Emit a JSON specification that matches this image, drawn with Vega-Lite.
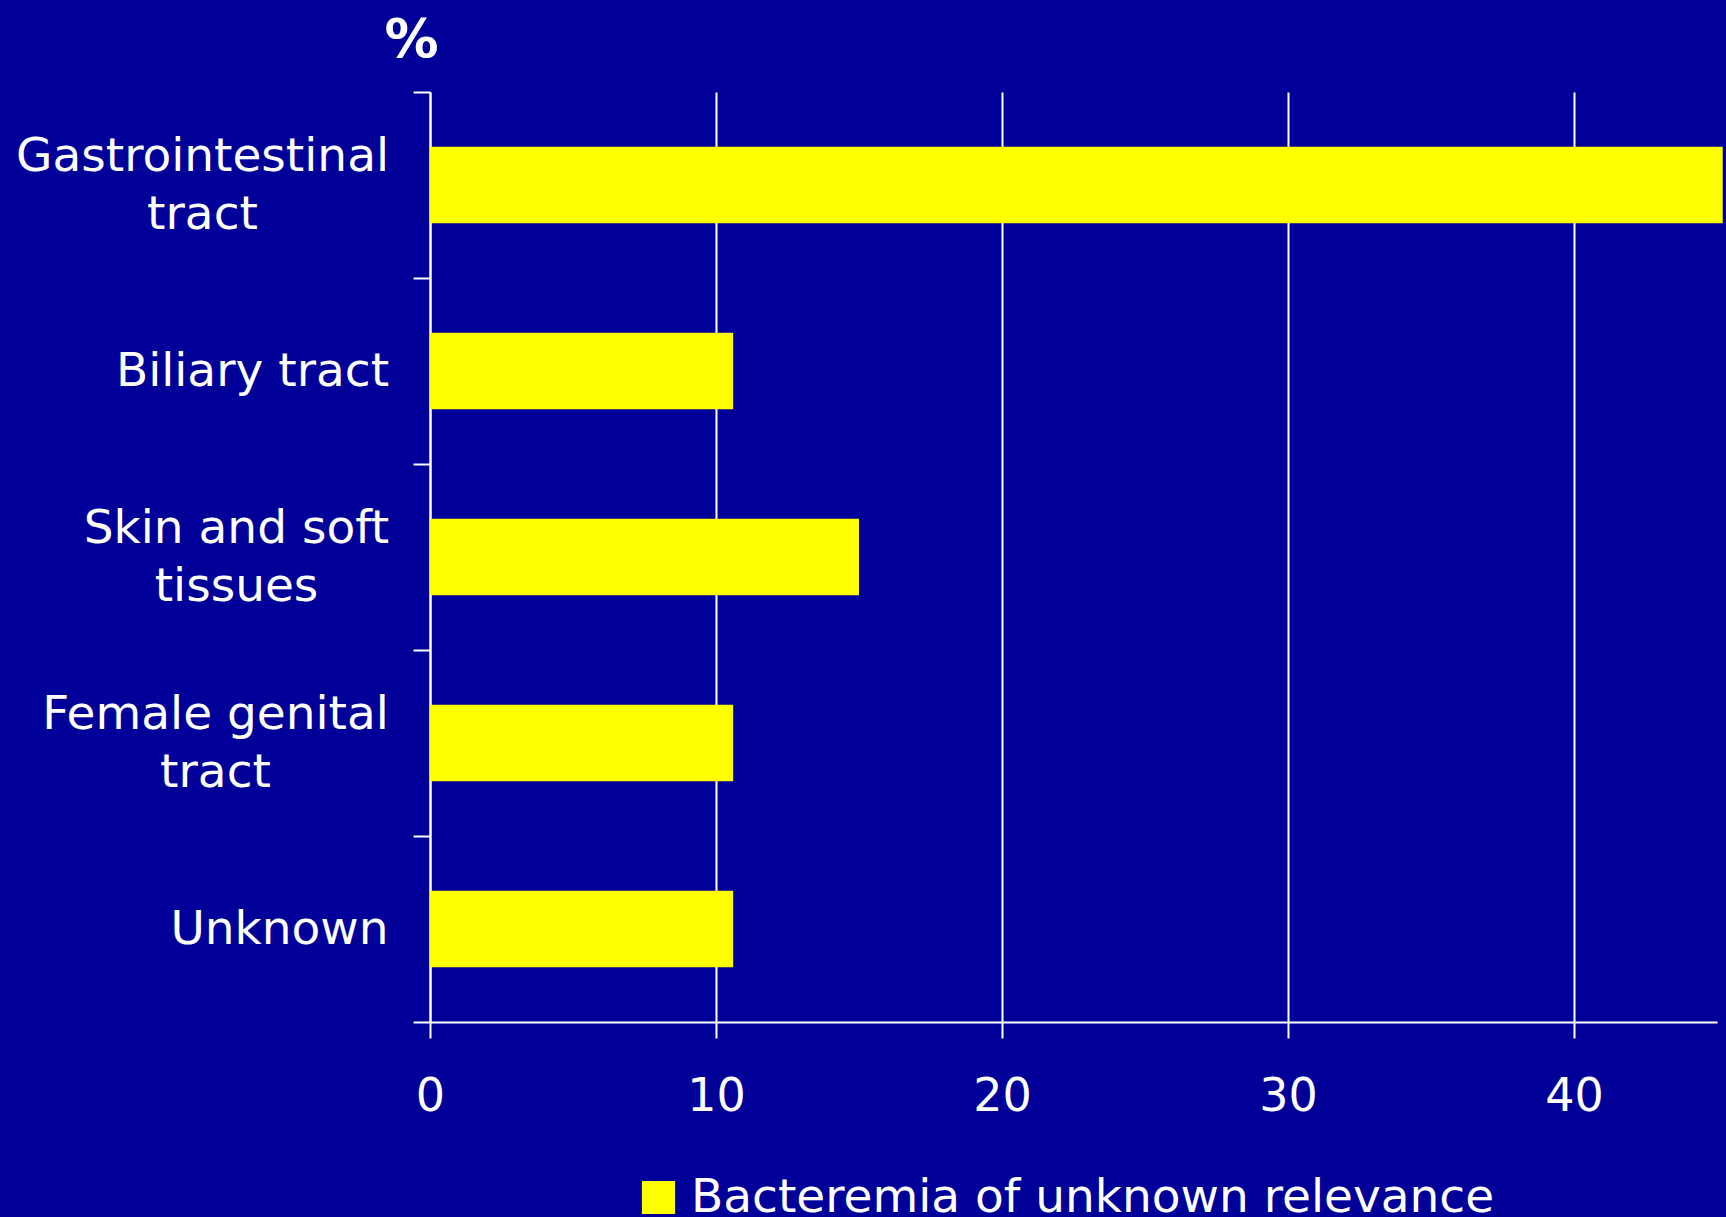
{
  "$schema": "https://vega.github.io/schema/vega-lite/v6.json",
  "width": 1287,
  "height": 930,
  "autosize": {"type": "none"},
  "padding": {"left": 430, "top": 92, "right": 9, "bottom": 195},
  "background": "#000099",
  "config": {"view": {"stroke": null}, "font": "DejaVu Sans"},
  "data": {
    "values": [
      {"site": "Gastrointestinal tract", "percent": 45.2, "series": "Bacteremia of unknown relevance"},
      {"site": "Biliary tract", "percent": 10.6, "series": "Bacteremia of unknown relevance"},
      {"site": "Skin and soft tissues", "percent": 15.0, "series": "Bacteremia of unknown relevance"},
      {"site": "Female genital tract", "percent": 10.6, "series": "Bacteremia of unknown relevance"},
      {"site": "Unknown", "percent": 10.6, "series": "Bacteremia of unknown relevance"}
    ]
  },
  "mark": {"type": "bar", "height": {"band": 0.41}},
  "encoding": {
    "y": {
      "field": "site",
      "type": "nominal",
      "sort": null,
      "scale": {"paddingInner": 0, "paddingOuter": 0},
      "axis": {
        "title": "%",
        "titleAngle": 0,
        "titleX": -19,
        "titleY": -36,
        "titleAlign": "center",
        "titleBaseline": "alphabetic",
        "titleFontSize": 54,
        "titleFontWeight": "bold",
        "titleColor": "white",
        "labelExpr": "datum.value == 'Gastrointestinal tract' ? ['Gastrointestinal', 'tract'] : datum.value == 'Skin and soft tissues' ? ['Skin and soft', 'tissues'] : datum.value == 'Female genital tract' ? ['Female genital', 'tract'] : datum.value",
        "labelFontSize": 47,
        "labelColor": "white",
        "labelAlign": "center",
        "labelBaseline": "middle",
        "labelLineHeight": 58,
        "labelPadding": {
          "condition": [
            {"test": "datum.value == 'Gastrointestinal tract'", "value": 211},
            {"test": "datum.value == 'Biliary tract'", "value": 161},
            {"test": "datum.value == 'Skin and soft tissues'", "value": 177},
            {"test": "datum.value == 'Female genital tract'", "value": 198}
          ],
          "value": 134
        },
        "labelOffset": {
          "condition": {"test": "datum.value == 'Gastrointestinal tract' || datum.value == 'Skin and soft tissues' || datum.value == 'Female genital tract'", "value": -29},
          "value": 0
        },
        "labelLimit": 600,
        "tickSize": 17,
        "tickColor": "white",
        "tickWidth": 2,
        "tickBand": "extent",
        "domainColor": "white",
        "domainWidth": 2,
        "grid": false
      }
    },
    "x": {
      "field": "percent",
      "type": "quantitative",
      "scale": {"domain": [0, 45], "nice": false},
      "axis": {
        "title": null,
        "values": [0, 10, 20, 30, 40],
        "grid": true,
        "gridColor": "white",
        "gridWidth": 2,
        "tickSize": 16,
        "tickColor": "white",
        "tickWidth": 2,
        "domainColor": "white",
        "domainWidth": 2,
        "labelFontSize": 46,
        "labelColor": "white",
        "labelPadding": 36,
        "labelFlush": false
      }
    },
    "color": {
      "field": "series",
      "type": "nominal",
      "scale": {"range": ["#ffff00"]},
      "legend": {
        "orient": "none",
        "legendX": 205,
        "legendY": 1082,
        "title": null,
        "symbolType": "square",
        "symbolSize": 1100,
        "symbolStrokeWidth": 0,
        "symbolOpacity": 1,
        "labelFontSize": 47,
        "labelColor": "white",
        "labelLimit": 1200,
        "labelOffset": 9
      }
    }
  }
}
